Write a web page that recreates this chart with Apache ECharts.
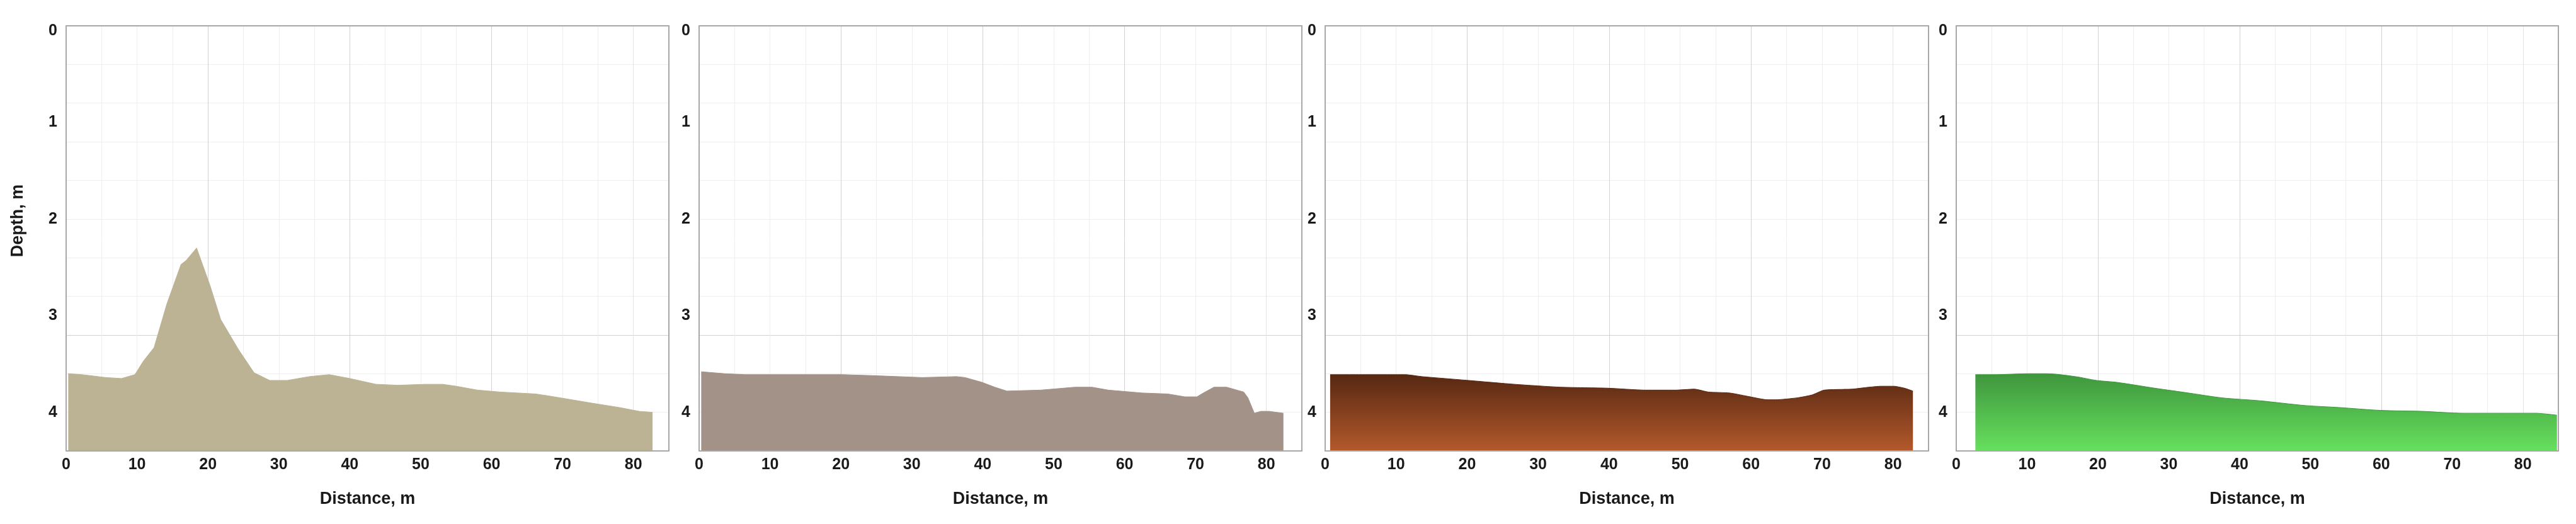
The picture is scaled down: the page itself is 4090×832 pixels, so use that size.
<!DOCTYPE html>
<html>
<head>
<meta charset="utf-8">
<script src="https://cdn.jsdelivr.net/npm/echarts@6/dist/echarts.min.js"></script>
<style>
html,body{margin:0;padding:0;background:#fff;}
#chart{width:4090px;height:832px;}
</style>
</head>
<body>
<div id="chart"></div>
<script>
// ---- data (distance in m, depth in m) ----
const distance1 = [0.3, 2.2, 5.6, 7.8, 9.7, 10.9, 12.4, 14.2, 16.2, 16.9, 18.4, 20.3, 21.8, 24.3, 26.5, 28.7, 31.2, 34.3, 37.1, 40.0, 43.7, 46.8, 50.6, 53.1, 55.0, 58.0, 61.2, 66.2, 68.0, 70.5, 73.7, 78.0, 80.8, 82.7];
const depth1    = [3.60, 3.61, 3.64, 3.65, 3.61, 3.47, 3.33, 2.88, 2.47, 2.43, 2.30, 2.69, 3.04, 3.35, 3.59, 3.67, 3.67, 3.63, 3.61, 3.65, 3.71, 3.72, 3.71, 3.71, 3.73, 3.77, 3.79, 3.81, 3.83, 3.86, 3.90, 3.95, 3.99, 4.00];

const distance2 = [0.3, 3.6, 6.5, 12.5, 20.2, 24.4, 31.5, 36.3, 37.5, 39.9, 41.7, 43.4, 48.2, 53.0, 55.4, 57.7, 62.5, 66.1, 68.5, 70.2, 71.1, 72.6, 74.4, 76.8, 77.4, 78.3, 79.2, 80.4, 82.4];
const depth2    = [3.58, 3.60, 3.61, 3.61, 3.61, 3.62, 3.64, 3.63, 3.64, 3.69, 3.74, 3.78, 3.77, 3.74, 3.74, 3.77, 3.80, 3.81, 3.84, 3.84, 3.80, 3.74, 3.74, 3.79, 3.85, 4.01, 3.99, 3.99, 4.01];

const distance3 = [0.7, 11.3, 13.6, 20.2, 26.7, 33.2, 39.8, 45.1, 49.3, 52.0, 54.0, 57.0, 59.9, 62.3, 63.5, 66.5, 68.6, 70.3, 74.2, 76.6, 78.3, 80.1, 81.6, 82.8];
const depth3    = [3.61, 3.61, 3.63, 3.67, 3.71, 3.74, 3.75, 3.77, 3.77, 3.76, 3.79, 3.80, 3.84, 3.87, 3.87, 3.85, 3.82, 3.77, 3.76, 3.74, 3.73, 3.73, 3.75, 3.78];

const distance4 = [2.7, 5.6, 10.3, 12.7, 16.8, 19.8, 22.7, 28.0, 32.8, 37.5, 42.8, 49.3, 54.0, 59.9, 65.8, 71.7, 77.6, 81.8, 84.8];
const depth4    = [3.61, 3.61, 3.60, 3.60, 3.63, 3.67, 3.69, 3.75, 3.80, 3.85, 3.88, 3.93, 3.95, 3.98, 3.99, 4.01, 4.01, 4.01, 4.03];

const distanceTicks = [0, 10, 20, 30, 40, 50, 60, 70, 80];
const depthTicks = [0, 1, 2, 3, 4];
const xAxisTitle = 'Distance, m';
const yAxisTitle = 'Depth, m';

// ---- styling / layout ----
const FONT = '"Liberation Sans", Arial, sans-serif';
const TXT = '#1a1a1a';
const BORDER = '#a8a8a8';
const LIGHT = '#eeeeee';
const DARK = '#d2d2d2';
const X_MAX = 85, Y_MAX = 4.4;

const panels = [
  { left: 105,  right: 3028, xs: distance1, ys: depth1, fill: '#bcb294', line: '#bcb294', smooth: false, title: true },
  { left: 1110, right: 2023, xs: distance2, ys: depth2, fill: '#a39287', line: '#a39287', smooth: false, title: false },
  { left: 2104, right: 1028, xs: distance3, ys: depth3,
    fill: new echarts.graphic.LinearGradient(0, 0, 0, 1, [{offset: 0, color: '#562812'}, {offset: 1, color: '#b4592c'}]),
    line: '#562812', smooth: 0.2, title: false },
  { left: 3106, right: 28, xs: distance4, ys: depth4,
    fill: new echarts.graphic.LinearGradient(0, 0, 0, 1, [{offset: 0, color: '#3f963d'}, {offset: 1, color: '#66e05e'}]),
    line: '#3f963d', smooth: 0.3, title: false }
];

const grids = [], xAxes = [], yAxes = [], series = [];
const labelStyle = { fontSize: 25, fontWeight: 'bold', color: TXT, fontFamily: FONT };
const nameStyle = { fontSize: 27, fontWeight: 'bold', color: TXT, fontFamily: FONT };
const isTick = (v, list) => Math.abs(v - Math.round(v)) < 1e-6 && list.includes(Math.round(v));

panels.forEach((p, i) => {
  grids.push({ left: p.left, right: p.right, top: 41, bottom: 116, containLabel: false });
  const base = { gridIndex: i, type: 'value', min: 0, max: X_MAX };
  // label + bottom border
  xAxes.push(Object.assign({}, base, {
    interval: 10, position: 'bottom', z: 5,
    axisLine: { show: true, onZero: false, lineStyle: { color: BORDER, width: 2 } },
    axisTick: { show: false }, splitLine: { show: false },
    axisLabel: Object.assign({ margin: 10, formatter: v => isTick(v, distanceTicks) ? String(Math.round(v)) : '' }, labelStyle),
    name: xAxisTitle, nameLocation: 'middle', nameGap: 63,
    nameTextStyle: nameStyle
  }));
  // top border
  xAxes.push(Object.assign({}, base, {
    position: 'top', z: 5,
    axisLine: { show: true, onZero: false, lineStyle: { color: BORDER, width: 2 } },
    axisTick: { show: false }, splitLine: { show: false }, axisLabel: { show: false }
  }));
  // light grid
  xAxes.push(Object.assign({}, base, {
    interval: 5, position: 'bottom', z: 0,
    axisLine: { show: false }, axisTick: { show: false }, axisLabel: { show: false },
    splitLine: { show: true, lineStyle: { color: LIGHT, width: 1 } }
  }));
  // dark grid
  xAxes.push(Object.assign({}, base, {
    interval: 20, position: 'bottom', z: 0,
    axisLine: { show: false }, axisTick: { show: false }, axisLabel: { show: false },
    splitLine: { show: true, lineStyle: { color: [DARK, DARK, DARK, DARK, '#e4e4e4', BORDER], width: 1 } }
  }));

  const ybase = { gridIndex: i, type: 'value', min: 0, max: Y_MAX, inverse: true };
  const yLabel = Object.assign({}, ybase, {
    interval: 1, position: 'left', z: 5,
    axisLine: { show: true, onZero: false, lineStyle: { color: BORDER, width: 2 } },
    axisTick: { show: false }, splitLine: { show: false },
    axisLabel: Object.assign({
      margin: 14,
      formatter: v => {
        if (!isTick(v, depthTicks)) return '';
        const r = Math.round(v);
        return r === 0 ? '{first|0}' : String(r);
      },
      rich: { first: Object.assign({ padding: [16, 0, 0, 0] }, labelStyle) }
    }, labelStyle)
  });
  if (p.title) {
    Object.assign(yLabel, {
      name: yAxisTitle, nameLocation: 'middle', nameGap: 63, nameRotate: 90,
      nameTextStyle: Object.assign({ padding: [0, 0, 0, 56] }, nameStyle)
    });
  }
  yAxes.push(yLabel);
  yAxes.push(Object.assign({}, ybase, {
    position: 'right', z: 5,
    axisLine: { show: true, onZero: false, lineStyle: { color: BORDER, width: 2 } },
    axisTick: { show: false }, splitLine: { show: false }, axisLabel: { show: false }
  }));
  yAxes.push(Object.assign({}, ybase, {
    interval: 0.4, position: 'left', z: 0,
    axisLine: { show: false }, axisTick: { show: false }, axisLabel: { show: false },
    splitLine: { show: true, lineStyle: { color: LIGHT, width: 1 } }
  }));
  yAxes.push(Object.assign({}, ybase, {
    interval: 3.2, position: 'left', z: 0,
    axisLine: { show: false }, axisTick: { show: false }, axisLabel: { show: false },
    splitLine: { show: true, lineStyle: { color: DARK, width: 1 } }
  }));

  series.push({
    type: 'line', xAxisIndex: 4 * i, yAxisIndex: 4 * i,
    data: p.xs.map((x, k) => [x, p.ys[k]]),
    symbol: 'none', smooth: p.smooth, silent: true, z: 2,
    lineStyle: { color: p.line, width: 1 },
    areaStyle: { color: p.fill, opacity: 1, origin: 'end' }
  });
});

const chart = echarts.init(document.getElementById('chart'), null, { renderer: 'canvas' });
chart.setOption({
  animation: false,
  backgroundColor: '#ffffff',
  grid: grids, xAxis: xAxes, yAxis: yAxes, series: series
});
</script>
</body>
</html>
